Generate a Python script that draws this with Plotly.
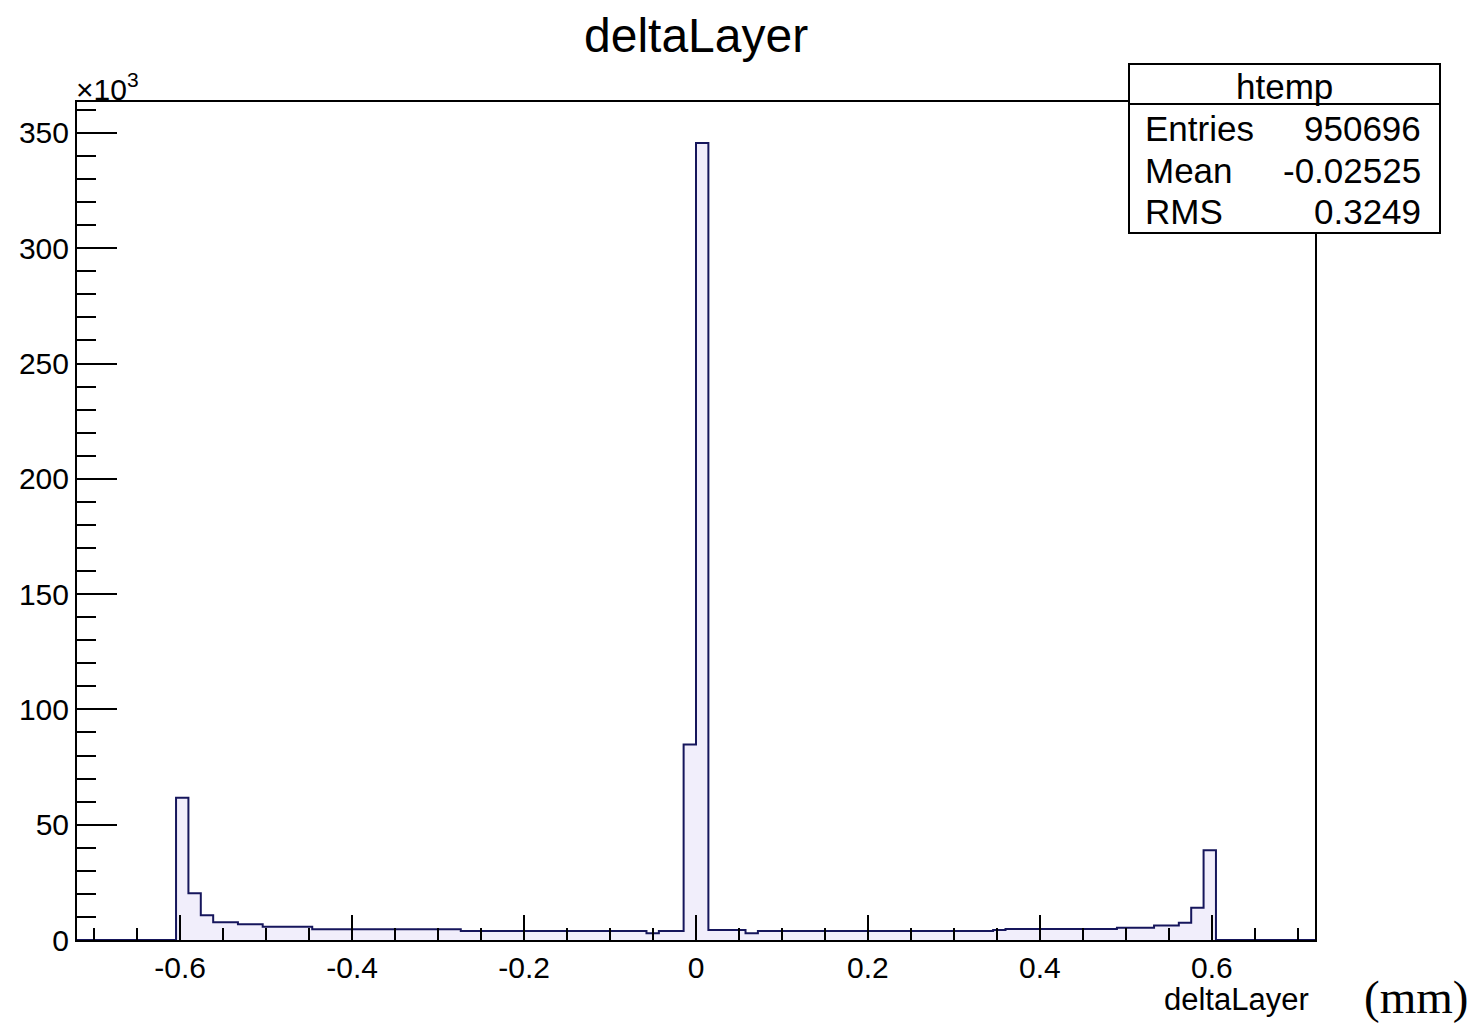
import plotly.graph_objects as go

# ---------------- data ----------------
X_MIN, X_MAX, NBINS = -0.72, 0.72, 100

# bin contents in units of 10^3 entries (100 bins from -0.72 to 0.72)
counts_k = (
    [0.0] * 8
    + [61.7, 20.3, 10.7, 7.7, 7.7, 6.8, 6.8, 5.8, 5.8, 5.8, 5.8]
    + [4.7] * 12
    + [3.9] * 15
    + [2.9, 3.9, 3.9]
    + [84.8, 345.6]
    + [4.3, 4.3, 4.3, 2.9]
    + [3.9] * 19
    + [4.3]
    + [4.8] * 9
    + [5.3, 5.3, 5.3, 6.3, 6.3, 7.5, 14.0, 38.9]
    + [0.0] * 8
)

x_tickvals = [-0.6, -0.4, -0.2, 0.0, 0.2, 0.4, 0.6]
x_ticktext = ["-0.6", "-0.4", "-0.2", "0", "0.2", "0.4", "0.6"]
y_tickvals = [0, 50, 100, 150, 200, 250, 300, 350]
y_ticktext = ["0", "50", "100", "150", "200", "250", "300", "350"]
Y_MAX = 363.4

hist_name = "htemp"
stats_labels = ["Entries", "Mean", "RMS"]
stats_values = ["950696", "-0.02525", "0.3249"]

title_text = "deltaLayer"
xaxis_title = "deltaLayer"
unit_text = "(mm)"

# ---------------- layout geometry (reference pixels) ----------------
W, H = 1479, 1023
OFF = 8  # page body margin of the browser
PL, PR, PT, PB = 77, 1315, 102, 940


def px(xp):
    return (xp - PL) / (PR - PL)


def py(yp):
    return (PB - yp) / (PB - PT)


FONT = "Liberation Sans, Arial, Helvetica, sans-serif"

bw = (X_MAX - X_MIN) / NBINS
edges = [X_MIN + i * bw for i in range(NBINS + 1)]
yvals = counts_k + [counts_k[-1]]

fig = go.Figure()
fig.add_trace(
    go.Scatter(
        x=edges,
        y=yvals,
        mode="lines",
        line=dict(shape="hv", color="#16165c", width=2),
        fill="tozeroy",
        fillcolor="#f1eefb",
        hoverinfo="skip",
        showlegend=False,
    )
)

fig.update_layout(
    width=W - OFF,
    height=H - OFF,
    margin=dict(l=PL - OFF, r=W - PR, t=PT - OFF, b=H - PB, pad=0),
    paper_bgcolor="white",
    plot_bgcolor="white",
    font=dict(family=FONT, color="black"),
    showlegend=False,
)

fig.update_xaxes(
    range=[X_MIN, X_MAX],
    showgrid=False,
    zeroline=False,
    showline=True,
    mirror=True,
    linecolor="black",
    linewidth=2,
    ticks="inside",
    ticklen=25,
    tickwidth=2,
    tickcolor="black",
    tickmode="array",
    tickvals=x_tickvals,
    ticktext=x_ticktext,
    tickfont=dict(size=30, family=FONT, color="black"),
    minor=dict(ticks="inside", ticklen=12, tickwidth=2, tickcolor="black",
               tickmode="linear", tick0=0, dtick=0.05, showgrid=False),
)
fig.update_yaxes(
    range=[0, Y_MAX],
    showgrid=False,
    zeroline=False,
    showline=True,
    mirror=True,
    linecolor="black",
    linewidth=2,
    ticks="inside",
    ticklen=40,
    tickwidth=2,
    tickcolor="black",
    tickmode="array",
    tickvals=y_tickvals,
    ticktext=y_ticktext,
    tickfont=dict(size=30, family=FONT, color="black"),
    minor=dict(ticks="inside", ticklen=19, tickwidth=2, tickcolor="black",
               tickmode="linear", tick0=0, dtick=10, showgrid=False),
)

ann = []
# title
ann.append(dict(x=px(696), y=py(35), xref="paper", yref="paper", text=title_text,
                showarrow=False, xanchor="center", yanchor="middle",
                font=dict(size=48, family=FONT, color="black")))
# x10^3
ann.append(dict(x=px(74), y=py(87), xref="paper", yref="paper",
                text="×10<sup>3</sup>", showarrow=False, xanchor="left", yanchor="middle",
                font=dict(size=30, family=FONT, color="black")))
# x axis title
ann.append(dict(x=px(1311), y=py(999), xref="paper", yref="paper", text=xaxis_title,
                showarrow=False, xanchor="right", yanchor="middle",
                font=dict(size=31, family=FONT, color="black")))
# unit
ann.append(dict(x=px(1470), y=py(997), xref="paper", yref="paper", text=unit_text,
                showarrow=False, xanchor="right", yanchor="middle",
                font=dict(size=47, family="Liberation Serif, Times New Roman, serif", color="black")))

# stats box
BX0, BX1, BY0, BY1, BYH = 1129, 1440, 64, 233, 104
shapes = [
    dict(type="rect", xref="paper", yref="paper", x0=px(BX0), x1=px(BX1), y0=py(BY1), y1=py(BY0),
         fillcolor="white", line=dict(color="black", width=2), layer="above"),
    dict(type="line", xref="paper", yref="paper", x0=px(BX0), x1=px(BX1), y0=py(BYH), y1=py(BYH),
         line=dict(color="black", width=2), layer="above"),
]
ann.append(dict(x=px((BX0 + BX1) / 2), y=py(86), xref="paper", yref="paper", text=hist_name,
                showarrow=False, xanchor="center", yanchor="middle",
                font=dict(size=35, family=FONT, color="black")))
row_y = [129, 170, 211]
for lab, val, yy in zip(stats_labels, stats_values, row_y):
    ann.append(dict(x=px(1143), y=py(yy), xref="paper", yref="paper", text=lab,
                    showarrow=False, xanchor="left", yanchor="middle",
                    font=dict(size=35, family=FONT, color="black")))
    ann.append(dict(x=px(1423), y=py(yy), xref="paper", yref="paper", text=val,
                    showarrow=False, xanchor="right", yanchor="middle",
                    font=dict(size=35, family=FONT, color="black")))

fig.update_layout(annotations=ann, shapes=shapes)

fig.write_html("out.html")
